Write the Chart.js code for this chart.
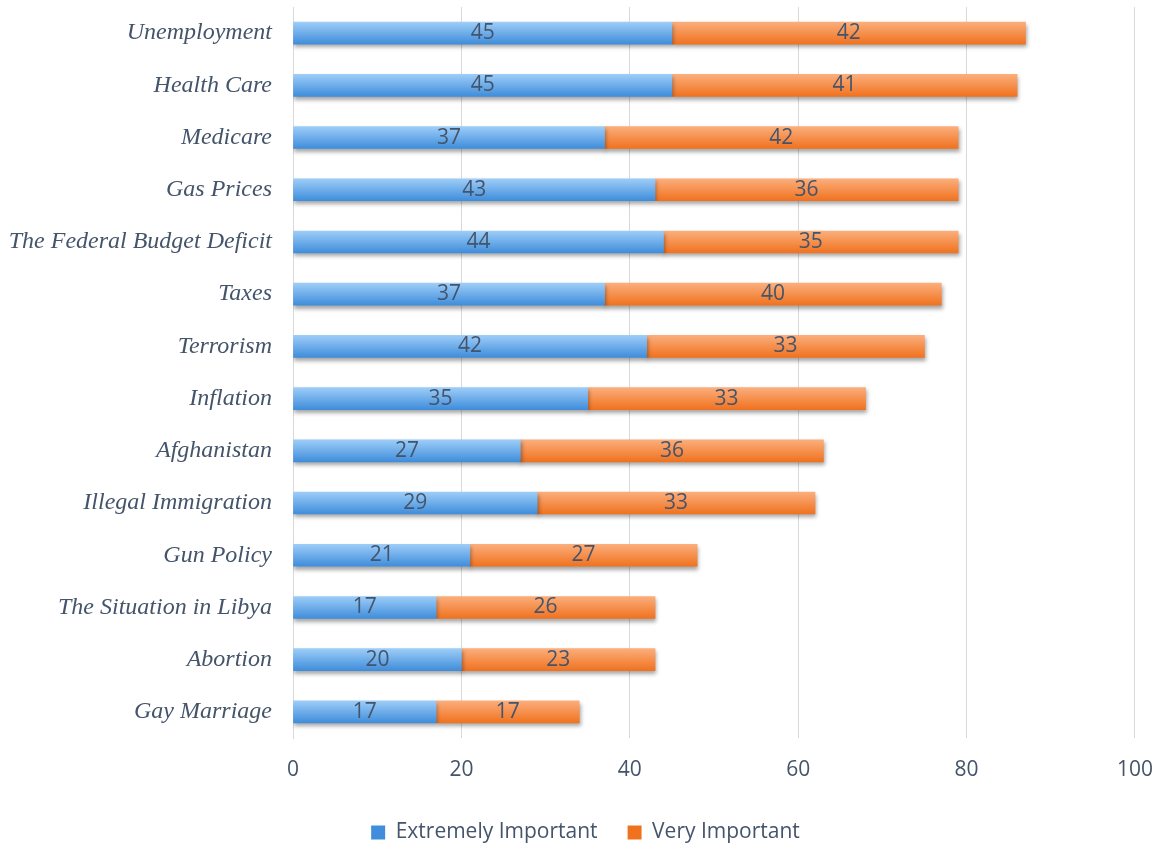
<!DOCTYPE html>
<html>
<head>
<meta charset="utf-8">
<script src="https://cdn.jsdelivr.net/npm/chart.js@4/dist/chart.umd.min.js"></script>
<style>
  html, body { margin: 0; padding: 0; background: #fff; }
  #wrap { width: 1172px; height: 845px; }
</style>
</head>
<body>
<div id="wrap"><canvas id="grafico"></canvas></div>
<script>
// Datos del grafico
var categorias = ['Unemployment', 'Health Care', 'Medicare', 'Gas Prices', 'The Federal Budget Deficit',
  'Taxes', 'Terrorism', 'Inflation', 'Afghanistan', 'Illegal Immigration', 'Gun Policy',
  'The Situation in Libya', 'Abortion', 'Gay Marriage'];
var extremadamente = [45, 45, 37, 43, 44, 37, 42, 35, 27, 29, 21, 17, 20, 17];
var muyImportante = [42, 41, 42, 36, 35, 40, 33, 33, 36, 33, 27, 26, 23, 17];
var ticksX = [0, 20, 40, 60, 80, 100];

var textoColor = '#44546A';

// Degradado vertical por barra
function degradado(ctx, claro, oscuro) {
  var chart = ctx.chart;
  var y = chart.scales && chart.scales.y;
  if (!y) return oscuro;
  var py = y.getPixelForValue(ctx.dataIndex);
  if (py == null || isNaN(py)) return oscuro;
  var g = chart.ctx.createLinearGradient(0, py - 11, 0, py + 11);
  g.addColorStop(0, claro);
  g.addColorStop(1, oscuro);
  return g;
}

// Sombra bajo las barras
var sombra = {
  id: 'sombra',
  beforeDatasetsDraw: function (chart) {
    var c = chart.ctx;
    c.save();
    c.shadowColor = 'rgba(0,0,0,0.35)';
    c.shadowBlur = 4;
    c.shadowOffsetX = 1;
    c.shadowOffsetY = 3;
  },
  afterDatasetsDraw: function (chart) {
    chart.ctx.restore();
  }
};

// Mover la leyenda un poco a la derecha
var leyendaDerecha = {
  id: 'leyendaDerecha',
  afterLayout: function (chart) {
    if (chart.legend) {
      chart.legend.left += 12;
      chart.legend.right += 12;
    }
  }
};

// Etiquetas de valores en el centro
var etiquetas = {
  id: 'etiquetas',
  afterDatasetsDraw: function (chart) {
    var c = chart.ctx;
    c.save();
    c.font = '21px "Open Sans"';
    c.fillStyle = textoColor;
    c.textAlign = 'center';
    c.textBaseline = 'middle';
    chart.data.datasets.forEach(function (ds, i) {
      chart.getDatasetMeta(i).data.forEach(function (bar, j) {
        var xc = (bar.x + bar.base) / 2;
        c.fillText(ds.data[j], xc, bar.y);
      });
    });
    c.restore();
  }
};

var ctx = document.getElementById('grafico').getContext('2d');
var grafico = new Chart(ctx, {
  type: 'bar',
  data: {
    labels: categorias,
    datasets: [{
      label: 'Extremely Important',
      data: extremadamente,
      backgroundColor: function (c) { return degradado(c, '#9DCDF8', '#3F8DDB'); },
      borderWidth: 0,
      barThickness: 22
    }, {
      label: 'Very Important',
      data: muyImportante,
      backgroundColor: function (c) { return degradado(c, '#FBAE7C', '#F0721F'); },
      borderWidth: 0,
      barThickness: 22
    }]
  },
  options: {
    indexAxis: 'y',
    responsive: true,
    maintainAspectRatio: false,
    animation: false,
    layout: { padding: { top: 7, right: 25, bottom: -8 } },
    scales: {
      x: {
        stacked: true,
        min: 0,
        max: 100,
        afterBuildTicks: function (s) { s.ticks = ticksX.map(function (v) { return { value: v }; }); },
        afterFit: function (s) { s.height = 54; },
        grid: { color: '#D9D9D9', drawTicks: false },
        border: { display: false },
        ticks: { color: textoColor, font: { family: 'Open Sans', size: 21 }, padding: 19 }
      },
      y: {
        stacked: true,
        afterFit: function (s) { s.width = 293; s.paddingTop = 0; s.paddingBottom = 0; },
        grid: { display: false },
        border: { display: true, color: '#D9D9D9' },
        ticks: {
          color: textoColor,
          padding: 13,
          font: { family: 'Liberation Serif', size: 24, style: 'italic' }
        }
      }
    },
    plugins: {
      legend: {
        position: 'bottom',
        labels: {
          color: textoColor,
          font: { family: 'Open Sans', size: 21 },
          boxWidth: 14,
          boxHeight: 14,
          padding: 30
        }
      },
      tooltip: { enabled: false }
    }
  },
  plugins: [sombra, leyendaDerecha, etiquetas]
});
</script>
</body>
</html>
